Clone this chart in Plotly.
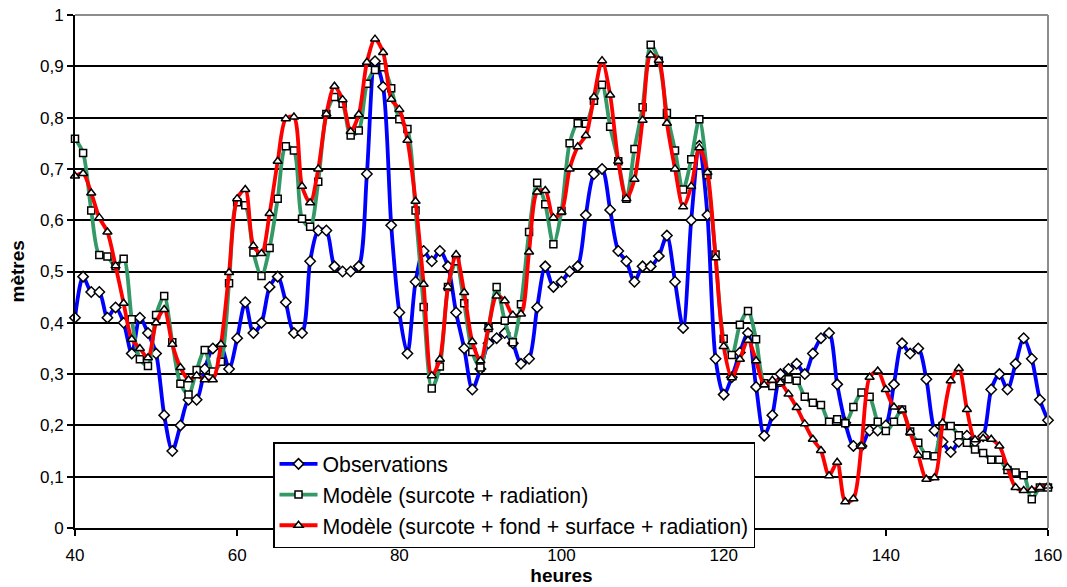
import plotly.graph_objects as go

hours = list(range(40, 161))

observations = [
    0.41, 0.49, 0.46, 0.46, 0.41, 0.43, 0.40, 0.34, 0.41, 0.38, 0.34, 0.22, 0.15, 0.20, 0.25, 0.25, 0.31, 0.35, 0.355, 0.31, 0.37,
    0.44, 0.38, 0.40, 0.47, 0.49, 0.44, 0.38, 0.38, 0.52, 0.58, 0.58, 0.51, 0.50, 0.50, 0.51, 0.69, 0.91, 0.86, 0.59, 0.42,
    0.34, 0.48, 0.54, 0.52, 0.54, 0.51, 0.42, 0.35, 0.27, 0.31, 0.36, 0.37, 0.38, 0.36, 0.32, 0.33, 0.43, 0.51, 0.47, 0.48,
    0.50, 0.51, 0.61, 0.69, 0.70, 0.62, 0.54, 0.52, 0.48, 0.51, 0.51, 0.53, 0.57, 0.48, 0.39, 0.60, 0.745, 0.61, 0.33, 0.26,
    0.294, 0.342, 0.38, 0.275, 0.18, 0.22, 0.30, 0.31, 0.32, 0.30, 0.34, 0.37, 0.38, 0.28, 0.205, 0.16, 0.16, 0.19, 0.19, 0.20,
    0.28, 0.36, 0.34, 0.35, 0.29, 0.19, 0.168, 0.148, 0.168, 0.18, 0.168, 0.179, 0.27, 0.30, 0.27, 0.32, 0.37, 0.33, 0.25, 0.21,
]

modele_radiation = [
    0.759, 0.731, 0.619, 0.532, 0.529, 0.51, 0.525, 0.407, 0.329, 0.316, 0.415, 0.452, 0.362, 0.281, 0.26, 0.308, 0.347, 0.305, 0.324, 0.477, 0.635,
    0.629, 0.537, 0.491, 0.546, 0.642, 0.744, 0.736, 0.603, 0.587, 0.675, 0.807, 0.84, 0.827, 0.765, 0.775, 0.866, 0.893, 0.898, 0.857, 0.797,
    0.778, 0.619, 0.431, 0.272, 0.315, 0.47, 0.52, 0.438, 0.343, 0.313, 0.39, 0.47, 0.404, 0.362, 0.436, 0.577, 0.673, 0.631, 0.553, 0.618,
    0.75, 0.789, 0.788, 0.833, 0.864, 0.782, 0.715, 0.642, 0.739, 0.82, 0.942, 0.911, 0.809, 0.736, 0.66, 0.719, 0.797, 0.688, 0.533, 0.369,
    0.337, 0.396, 0.423, 0.368, 0.282, 0.277, 0.283, 0.29, 0.287, 0.256, 0.244, 0.24, 0.207, 0.212, 0.204, 0.236, 0.264, 0.256, 0.207, 0.189,
    0.207, 0.231, 0.188, 0.166, 0.142, 0.14, 0.199, 0.199, 0.181, 0.166, 0.153, 0.146, 0.133, 0.133, 0.113, 0.108, 0.103, 0.056, 0.079, 0.079,
]

modele_complet = [
    0.686, 0.691, 0.653, 0.605, 0.577, 0.511, 0.438, 0.368, 0.35, 0.332, 0.40, 0.426, 0.358, 0.313, 0.289, 0.297, 0.289, 0.289, 0.358, 0.498, 0.642,
    0.66, 0.55, 0.535, 0.613, 0.715, 0.798, 0.801, 0.666, 0.634, 0.70, 0.807, 0.861, 0.835, 0.773, 0.806, 0.908, 0.953, 0.927, 0.836, 0.816,
    0.756, 0.637, 0.475, 0.297, 0.329, 0.47, 0.533, 0.459, 0.363, 0.326, 0.391, 0.452, 0.443, 0.415, 0.417, 0.538, 0.655, 0.658, 0.605, 0.616,
    0.70, 0.743, 0.765, 0.84, 0.911, 0.844, 0.715, 0.642, 0.68, 0.795, 0.922, 0.912, 0.789, 0.70, 0.626, 0.666, 0.741, 0.693, 0.527, 0.354,
    0.293, 0.329, 0.366, 0.326, 0.279, 0.288, 0.283, 0.261, 0.235, 0.203, 0.173, 0.151, 0.102, 0.128, 0.051, 0.057, 0.16, 0.294, 0.306, 0.27,
    0.236, 0.23, 0.186, 0.142, 0.095, 0.098, 0.205, 0.287, 0.311, 0.231, 0.172, 0.175, 0.173, 0.16, 0.118, 0.079, 0.073, 0.074, 0.079, 0.082,
]

series_names = [
    "Observations",
    "Modèle (surcote + radiation)",
    "Modèle (surcote + fond + surface + radiation)",
]
series_colors = ["#0000FF", "#339966", "#FF0000"]
series_symbols = ["diamond", "square", "triangle-up"]
series_sizes = [8, 7, 8]
series_values = [observations, modele_radiation, modele_complet]

FONT = "Liberation Sans, Arial, sans-serif"

fig = go.Figure()
for name, color, symbol, msize, vals in zip(series_names, series_colors, series_symbols,
                                            series_sizes, series_values):
    fig.add_trace(go.Scatter(
        x=hours, y=vals, name=name, mode="lines+markers",
        line=dict(color=color, width=3.8, shape="spline", smoothing=0.8),
        marker=dict(symbol=symbol, size=msize, color="white",
                    line=dict(color="black", width=1.5)),
        cliponaxis=False,
    ))

fig.update_layout(
    width=1067, height=587,
    margin=dict(l=75, r=19, t=15, b=59, autoexpand=False),
    paper_bgcolor="white", plot_bgcolor="white",
    separators=", ",
    font=dict(family=FONT, color="black", size=17),
    showlegend=True,
    legend=dict(
        x=0.2035, y=0.1676, xanchor="left", yanchor="top",
        bgcolor="white", bordercolor="black", borderwidth=1.5,
        font=dict(family=FONT, size=21.3, color="black"),
        tracegroupgap=0, itemwidth=38,
    ),
    xaxis=dict(
        range=[40, 160], dtick=20, tick0=40, automargin=False,
        showgrid=False, zeroline=False,
        showline=True, linecolor="black", linewidth=2,
        ticks="outside", ticklen=6, tickwidth=2, tickcolor="black",
        tickfont=dict(size=17), ticklabelstandoff=5, ticklabeloverflow="allow",
        title=dict(text="<b>heures</b>", font=dict(size=19), standoff=3),
    ),
    yaxis=dict(
        range=[0, 1], dtick=0.1, tick0=0, automargin=False,
        showgrid=True, gridcolor="black", gridwidth=1.5,
        zeroline=False,
        showline=True, linecolor="black", linewidth=2,
        ticks="outside", ticklen=6, tickwidth=2, tickcolor="black",
        tickfont=dict(size=17), ticklabeloverflow="allow",
    ),
    annotations=[
        dict(text="<b>mètres</b>", xref="paper", yref="paper",
             x=-0.0586, y=0.5, xanchor="center", yanchor="middle",
             textangle=-90, showarrow=False, font=dict(size=19)),
    ],
    shapes=[
        dict(type="line", xref="paper", yref="paper", x0=0, x1=1, y0=1, y1=1,
             line=dict(color="#8c8c8c", width=2), layer="above"),
        dict(type="line", xref="paper", yref="paper", x0=1, x1=1, y0=0, y1=1,
             line=dict(color="#8c8c8c", width=2), layer="above"),
    ],
)

# remove the default 8px page margin so the figure fills the window exactly
fig.write_html("out.html", config={"displayModeBar": False},
               post_script="document.body.style.margin='0';")
